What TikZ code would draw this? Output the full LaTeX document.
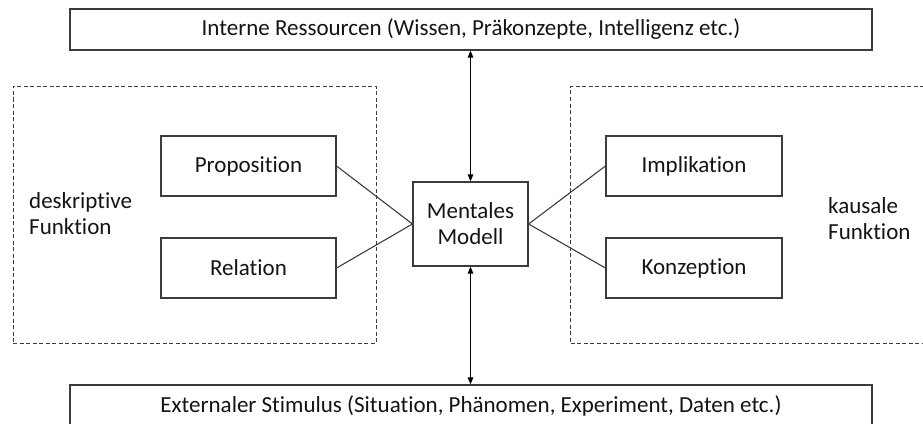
\documentclass[tikz,border=0pt]{standalone}
\usepackage{fontspec}
\setmainfont{Carlito}[Ligatures={NoCommon}]
\usetikzlibrary{arrows.meta}
\definecolor{edge}{RGB}{60,60,60}
\definecolor{txt}{RGB}{20,20,20}
\tikzset{
  box/.style={draw=edge, line width=1.2pt, inner sep=0pt, text=txt, align=center,
    font=\fontsize{23}{26}\selectfont},
  dashbox/.style={draw=edge, line width=1pt, dash pattern=on 4pt off 2.5pt, inner sep=0pt},
  lbl/.style={text=txt, align=left, inner sep=0pt, font=\fontsize{23}{26}\selectfont},
  link/.style={draw=edge, line width=1.1pt},
  dbl/.style={draw=black, line width=1.1pt, {Triangle[length=7pt,width=5.5pt]}-{Triangle[length=7pt,width=5.5pt]}}
}
\begin{document}
\begin{tikzpicture}[x=1pt,y=-1pt]
\useasboundingbox (0,0) rectangle (923,423);
\clip (0,0) rectangle (923,423);
% dashed frames
\node[dashbox, minimum width=363pt, minimum height=257pt] (lframe) at (194.5,214.5) {};
\node[dashbox, minimum width=370pt, minimum height=257pt, anchor=north west] (rframe) at (570,86) {};
% top and bottom boxes
\node[box, minimum width=802pt, minimum height=41pt] (top) at (471,29.5) {Interne Ressourcen (Wissen, Präkonzepte, Intelligenz etc.)};
\node[box, minimum width=802pt, minimum height=41pt] (bottom) at (471,405.5) {Externaler Stimulus (Situation, Phänomen, Experiment, Daten etc.)};
% centre
\node[box, minimum width=115pt, minimum height=84pt] (mm) at (470.5,224) {Mentales\\Modell};
% left
\node[box, minimum width=175pt, minimum height=60pt] (prop) at (248.5,166) {Proposition};
\node[box, minimum width=175pt, minimum height=60pt] (rel) at (248.5,268) {Relation};
% right
\node[box, minimum width=176pt, minimum height=60pt] (impl) at (694,166) {Implikation};
\node[box, minimum width=176pt, minimum height=60pt] (konz) at (694,268) {Konzeption};
% labels
\node[lbl, anchor=west] (ldesc) at (29,214) {deskriptive\\Funktion};
\node[lbl, anchor=west] (rkaus) at (828,219) {kausale\\Funktion};
% connectors
\draw[link] (prop.east) -- (mm.west);
\draw[link] (rel.east) -- (mm.west);
\draw[link] (impl.west) -- (mm.east);
\draw[link] (konz.west) -- (mm.east);
\draw[dbl] (top.south -| mm.north) -- (mm.north);
\draw[dbl] (mm.south) -- (bottom.north -| mm.south);
\end{tikzpicture}
\end{document}
